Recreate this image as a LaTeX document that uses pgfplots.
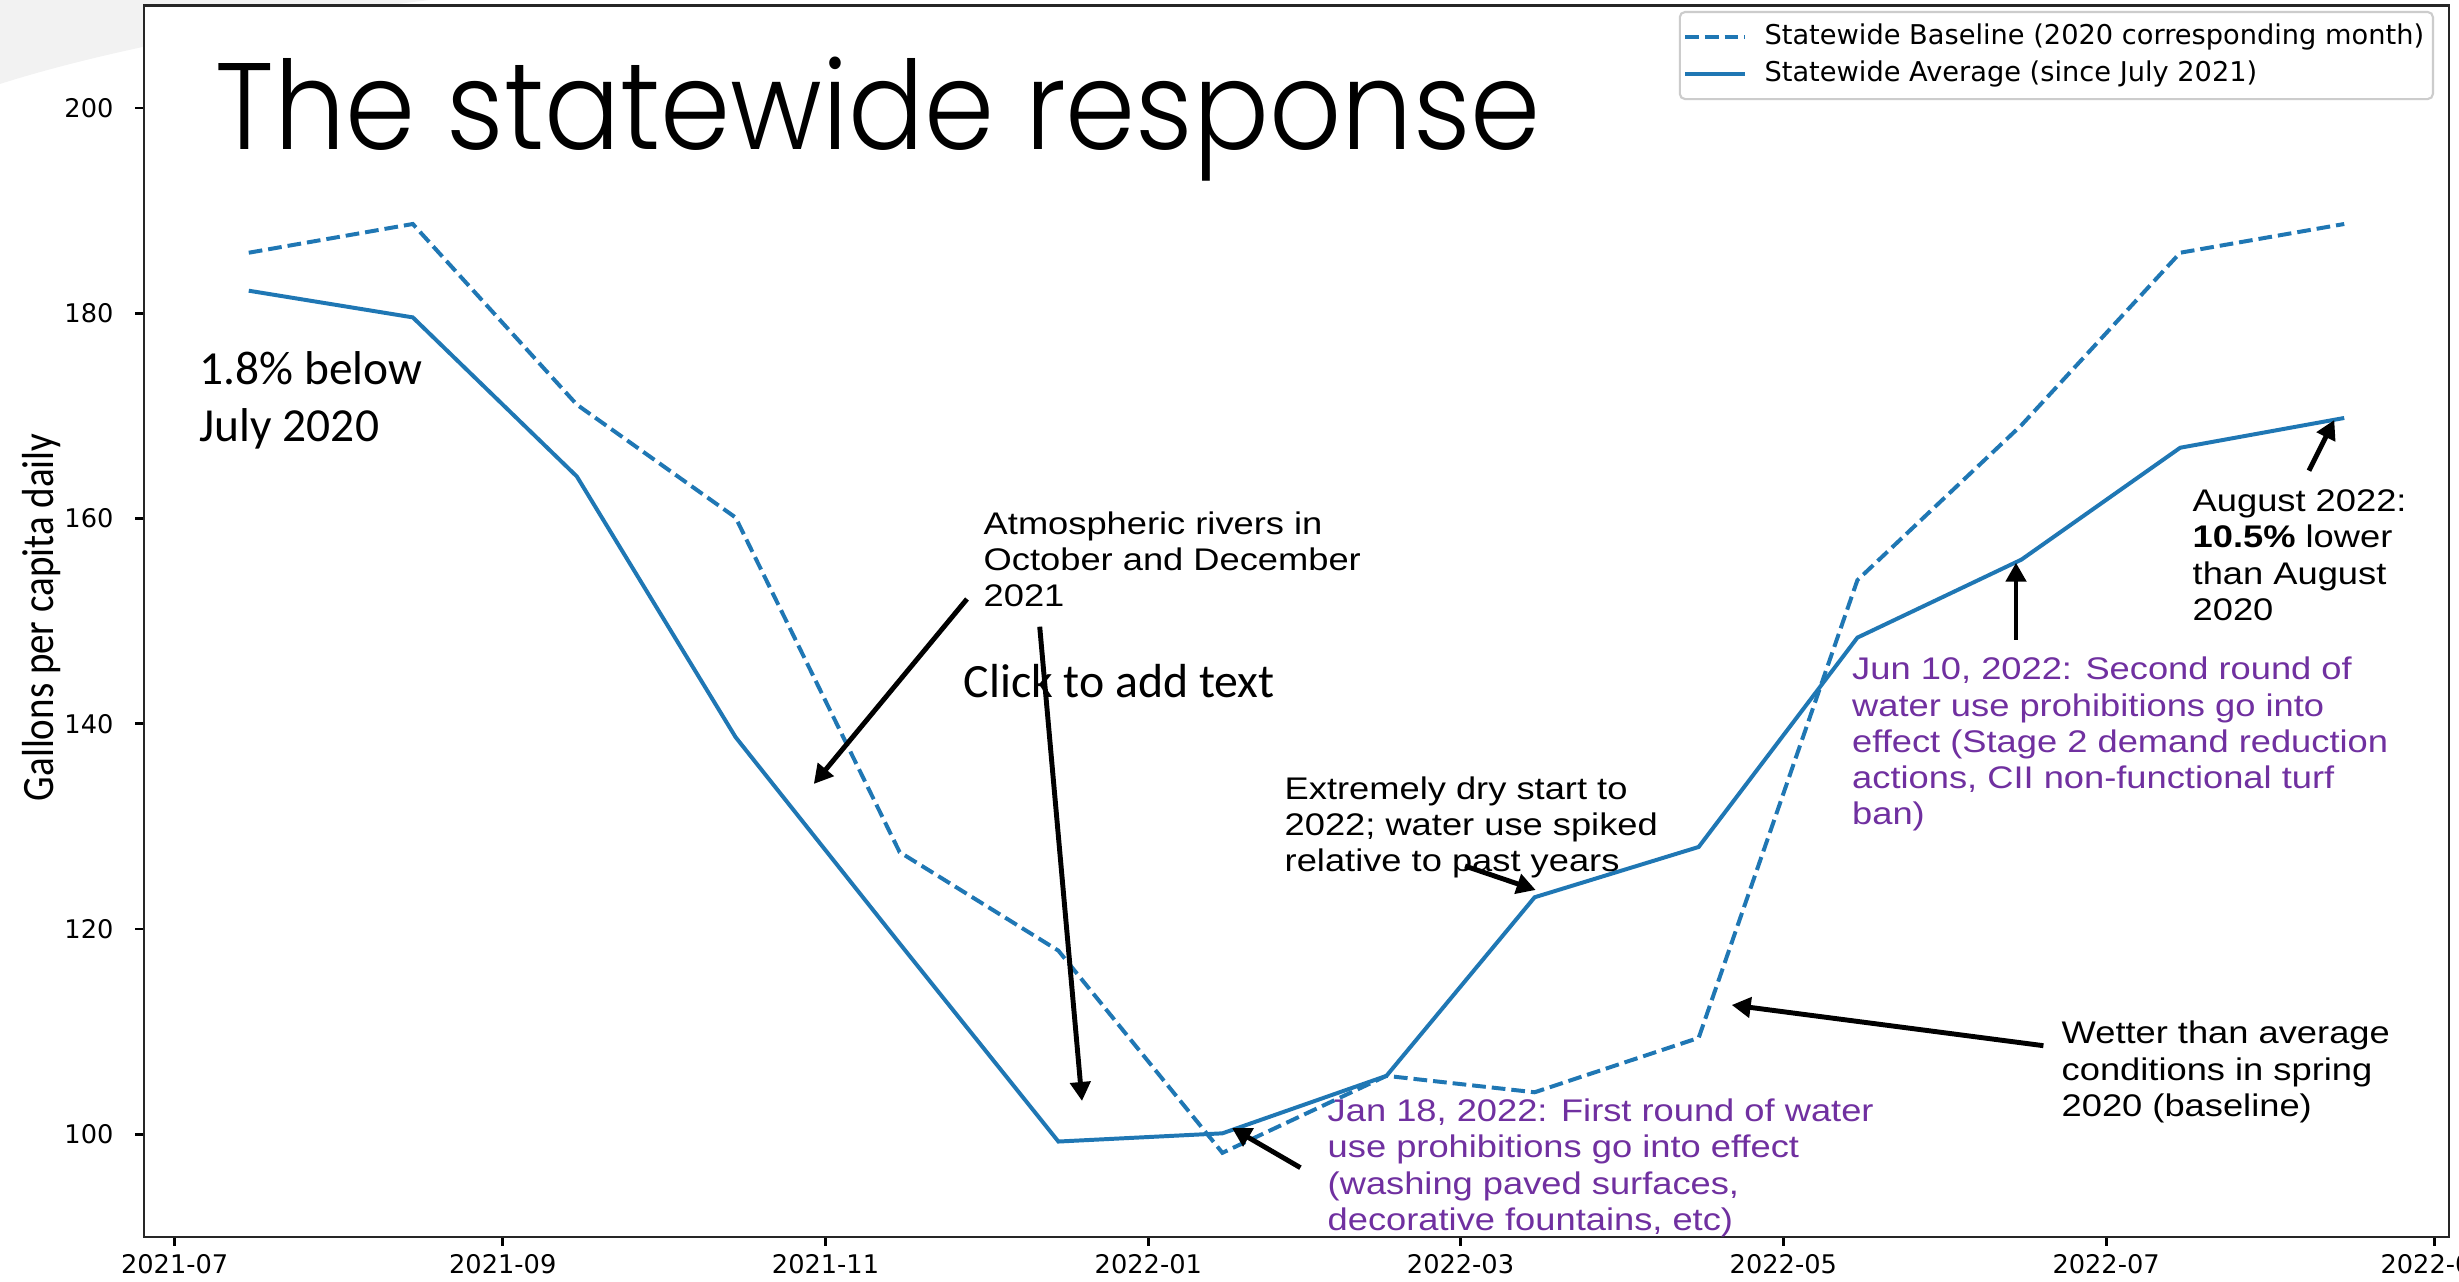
\documentclass[border=0pt]{standalone}
\usepackage{fontspec}
\usepackage{graphicx}
\usepackage{pgfplots}
\pgfplotsset{compat=1.18}
\usetikzlibrary{arrows.meta}
\newfontfamily\dejavu{DejaVu Sans}
\newfontfamily\arialf{Liberation Sans}
\newfontfamily\calib{Carlito}
\IfFontExistsTF{Poppins Light}{\newfontfamily\titlefont{Poppins Light}}{\newfontfamily\titlefont{Poppins}}
\definecolor{mplblue}{HTML}{1F77B4}
\definecolor{pptpurple}{HTML}{7030A0}
\definecolor{bggray}{HTML}{F2F2F2}
\newcommand{\arialblock}[1]{\scalebox{1.16}[1]{\arialf\fontsize{8.9}{10.3}\selectfont\begin{tabular}[t]{@{}l@{}}#1\end{tabular}}}

\pgfplotstableread{
day val
14 185.9
45 188.7
76 171.1
106 160.1
137 127.5
167 117.9
198 98.2
229 105.7
257 104.1
288 109.4
318 154.0
349 169.1
379 185.9
410 188.7
}\baseline
\pgfplotstableread{
day val
14 182.2
45 179.6
76 164.1
106 138.7
137 118.6
167 99.3
198 100.1
229 105.7
257 123.1
288 128.0
318 148.4
349 156.0
379 166.9
410 169.8
}\average

\begin{document}
\begin{tikzpicture}
\useasboundingbox (0,0) rectangle (24.59,12.82);
% slide background shape
\fill[bggray] (0,12.82) -- (4.3,12.82) .. controls (2.6,12.62) and (1.0,12.3) .. (0,11.98) -- cycle;
\begin{axis}[
  at={(1.44cm,0.45cm)}, anchor=south west,
  scale only axis, width=23.05cm, height=12.316cm,
  xmin=-5.8, xmax=429.8, ymin=90, ymax=210,
  xtick={0,62,123,184,243,304,365,427},
  xticklabels={2021-07,2021-09,2021-11,2022-01,2022-03,2022-05,2022-07,2022-09},
  ytick={100,120,140,160,180,200},
  tick pos=left, tick align=outside, major tick length=2.5pt,
  every tick/.style={black, line width=0.8pt},
  axis line style={line width=0.8pt, black!85},
  axis background/.style={fill=white},
  /pgf/number format/assume math mode=true,
  ticklabel style={font=\dejavu\fontsize{7.3}{8.7}\selectfont, inner sep=0pt},
  xticklabel style={anchor=base, yshift=-8.0pt},
  yticklabel style={anchor=east, xshift=-6.0pt},
  legend style={at={(axis description cs:0.9935,0.9955)}, anchor=north east,
    draw=black!20, rounded corners=1.5pt, line width=0.6pt,
    font=\dejavu\fontsize{7.75}{9.3}\selectfont,
    inner xsep=1pt, inner ysep=2pt, row sep=0pt, nodes={inner sep=1.5pt}},
  legend cell align=left,
  legend image code/.code={\draw[#1] (0cm,0cm) -- (0.6cm,0cm); \path (0.72cm,0cm);},
]
\addplot[mplblue, line width=1.13pt, dash pattern=on 3.9pt off 1.7pt] table[x=day,y=val] {\baseline};
\addlegendentry{Statewide Baseline (2020 corresponding month)}
\addplot[mplblue, line width=1.13pt] table[x=day,y=val] {\average};
\addlegendentry{Statewide Average (since July 2021)}
\end{axis}

% y label
\node[rotate=90, anchor=base, inner sep=0pt] at (0.53,6.647) {\scalebox{1}[1.15]{\calib\fontsize{11.1}{13}\selectfont Gallons per capita daily}};

% title
\node[anchor=base west, inner sep=0pt] at (2.15,11.327) {\resizebox{13.25cm}{\height}{\titlefont\fontsize{35}{40}\selectfont The statewide response}};

% annotations
\node[anchor=base west, inner sep=0pt] at (1.99,8.97) {\calib\fontsize{13.5}{16}\selectfont\begin{tabular}[t]{@{}l@{}}1.8\% below\\July 2020\end{tabular}};
\node[anchor=base west, inner sep=0pt] at (9.63,5.84) {\calib\fontsize{13.6}{16}\selectfont Click to add text};
\node[anchor=base west, inner sep=0pt] at (9.83,7.477) {\arialblock{Atmospheric rivers in\\October and December\\2021}};
\node[anchor=base west, inner sep=0pt] at (12.84,4.827) {\arialblock{Extremely dry start to\\2022; water use spiked\\relative to past years}};
\node[anchor=base west, inner sep=0pt, text=pptpurple] at (13.27,1.603) {\arialblock{Jan 18, 2022: First round of water\\use prohibitions go into effect\\(washing paved surfaces,\\decorative fountains, etc)}};
\node[anchor=base west, inner sep=0pt] at (20.61,2.38) {\arialblock{Wetter than average\\conditions in spring\\2020 (baseline)}};
\node[anchor=base west, inner sep=0pt, text=pptpurple] at (18.515,6.02) {\arialblock{Jun 10, 2022: Second round of\\water use prohibitions go into\\effect (Stage 2 demand reduction\\actions, CII non-functional turf\\ban)}};
\node[anchor=base west, inner sep=0pt] at (21.92,7.703) {\arialblock{August 2022:\\\textbf{10.5\%} lower\\than August\\2020}};

% arrows
\begin{scope}[line width=1.4pt, -{Triangle[length=0.19cm,width=0.2cm]}]
\draw (9.67,6.83) -- (8.138,4.98);
\draw (10.397,6.553) -- (10.82,1.81);
\draw (13.004,1.143) -- (12.32,1.54);
\draw (14.65,4.16) -- (15.357,3.92);
\draw (20.434,2.363) -- (17.317,2.77);
\draw (20.16,6.42) -- (20.16,7.193);
\draw (23.09,8.113) -- (23.343,8.62);
\end{scope}
\end{tikzpicture}
\end{document}
